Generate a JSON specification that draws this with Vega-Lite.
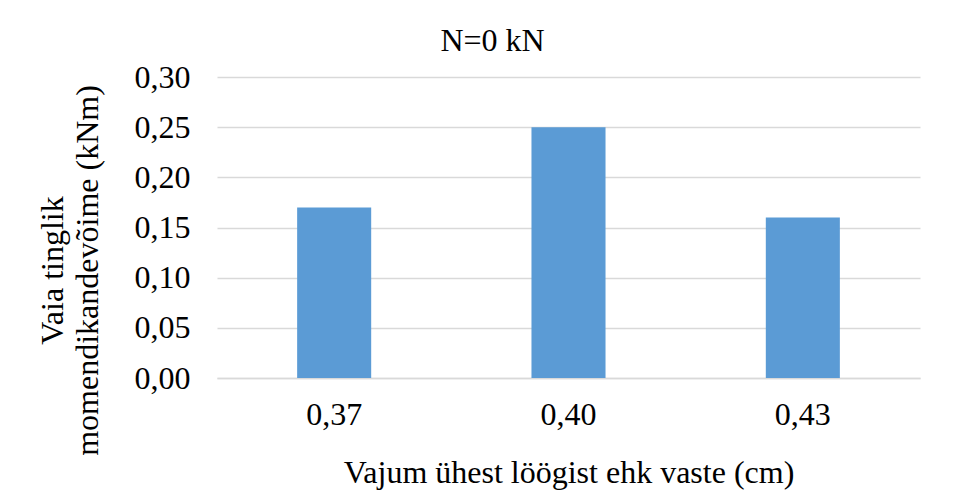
{
  "$schema": "https://vega.github.io/schema/vega-lite/v6.json",
  "autosize": "none",
  "width": 703,
  "height": 301,
  "padding": {"left": 217, "top": 77, "right": 52, "bottom": 123},
  "background": "#ffffff",
  "config": {
    "font": "Liberation Serif",
    "view": {"stroke": null},
    "locale": {"number": {"decimal": ",", "thousands": " ", "grouping": [3], "currency": ["", " €"]}}
  },
  "title": {
    "text": "N=0 kN",
    "font": "Liberation Serif",
    "fontSize": 32,
    "fontWeight": "normal",
    "color": "#000000",
    "anchor": "middle",
    "baseline": "alphabetic",
    "offset": 24,
    "dx": -76,
    "dy": 46
  },
  "data": {
    "values": [
      {"vajum": "0,37", "moment": 0.17},
      {"vajum": "0,40", "moment": 0.25},
      {"vajum": "0,43", "moment": 0.16}
    ]
  },
  "mark": {"type": "bar", "color": "#5B9BD5"},
  "encoding": {
    "x": {
      "field": "vajum",
      "type": "nominal",
      "sort": null,
      "scale": {"paddingInner": 0.684, "paddingOuter": 0.342},
      "axis": {
        "title": "Vajum ühest löögist ehk vaste (cm)",
        "titleFont": "Liberation Serif",
        "titleFontSize": 32,
        "titleFontWeight": "normal",
        "titleColor": "#000000",
        "titleBaseline": "alphabetic",
        "titleY": 104,
        "labelAngle": 0,
        "labelFont": "Liberation Serif",
        "labelFontSize": 32,
        "labelColor": "#000000",
        "labelBaseline": "top",
        "labelPadding": 21,
        "ticks": false,
        "domain": true,
        "domainColor": "#d9d9d9",
        "domainWidth": 1.5
      }
    },
    "y": {
      "field": "moment",
      "type": "quantitative",
      "scale": {"domain": [0, 0.3], "nice": false},
      "axis": {
        "title": ["Vaia tinglik", "momendikandevõime (kNm)"],
        "titleFont": "Liberation Serif",
        "titleFontSize": 32,
        "titleFontWeight": "normal",
        "titleColor": "#000000",
        "titleLineHeight": 35,
        "titleAngle": -90,
        "titleBaseline": "top",
        "titleX": -180,
        "titleY": 193,
        "values": [0, 0.05, 0.1, 0.15, 0.2, 0.25, 0.3],
        "format": ".2f",
        "labelFont": "Liberation Serif",
        "labelFontSize": 32,
        "labelColor": "#000000",
        "labelPadding": 27,
        "ticks": false,
        "domain": false,
        "grid": true,
        "gridColor": "#d9d9d9",
        "gridWidth": 1.5
      }
    }
  }
}
